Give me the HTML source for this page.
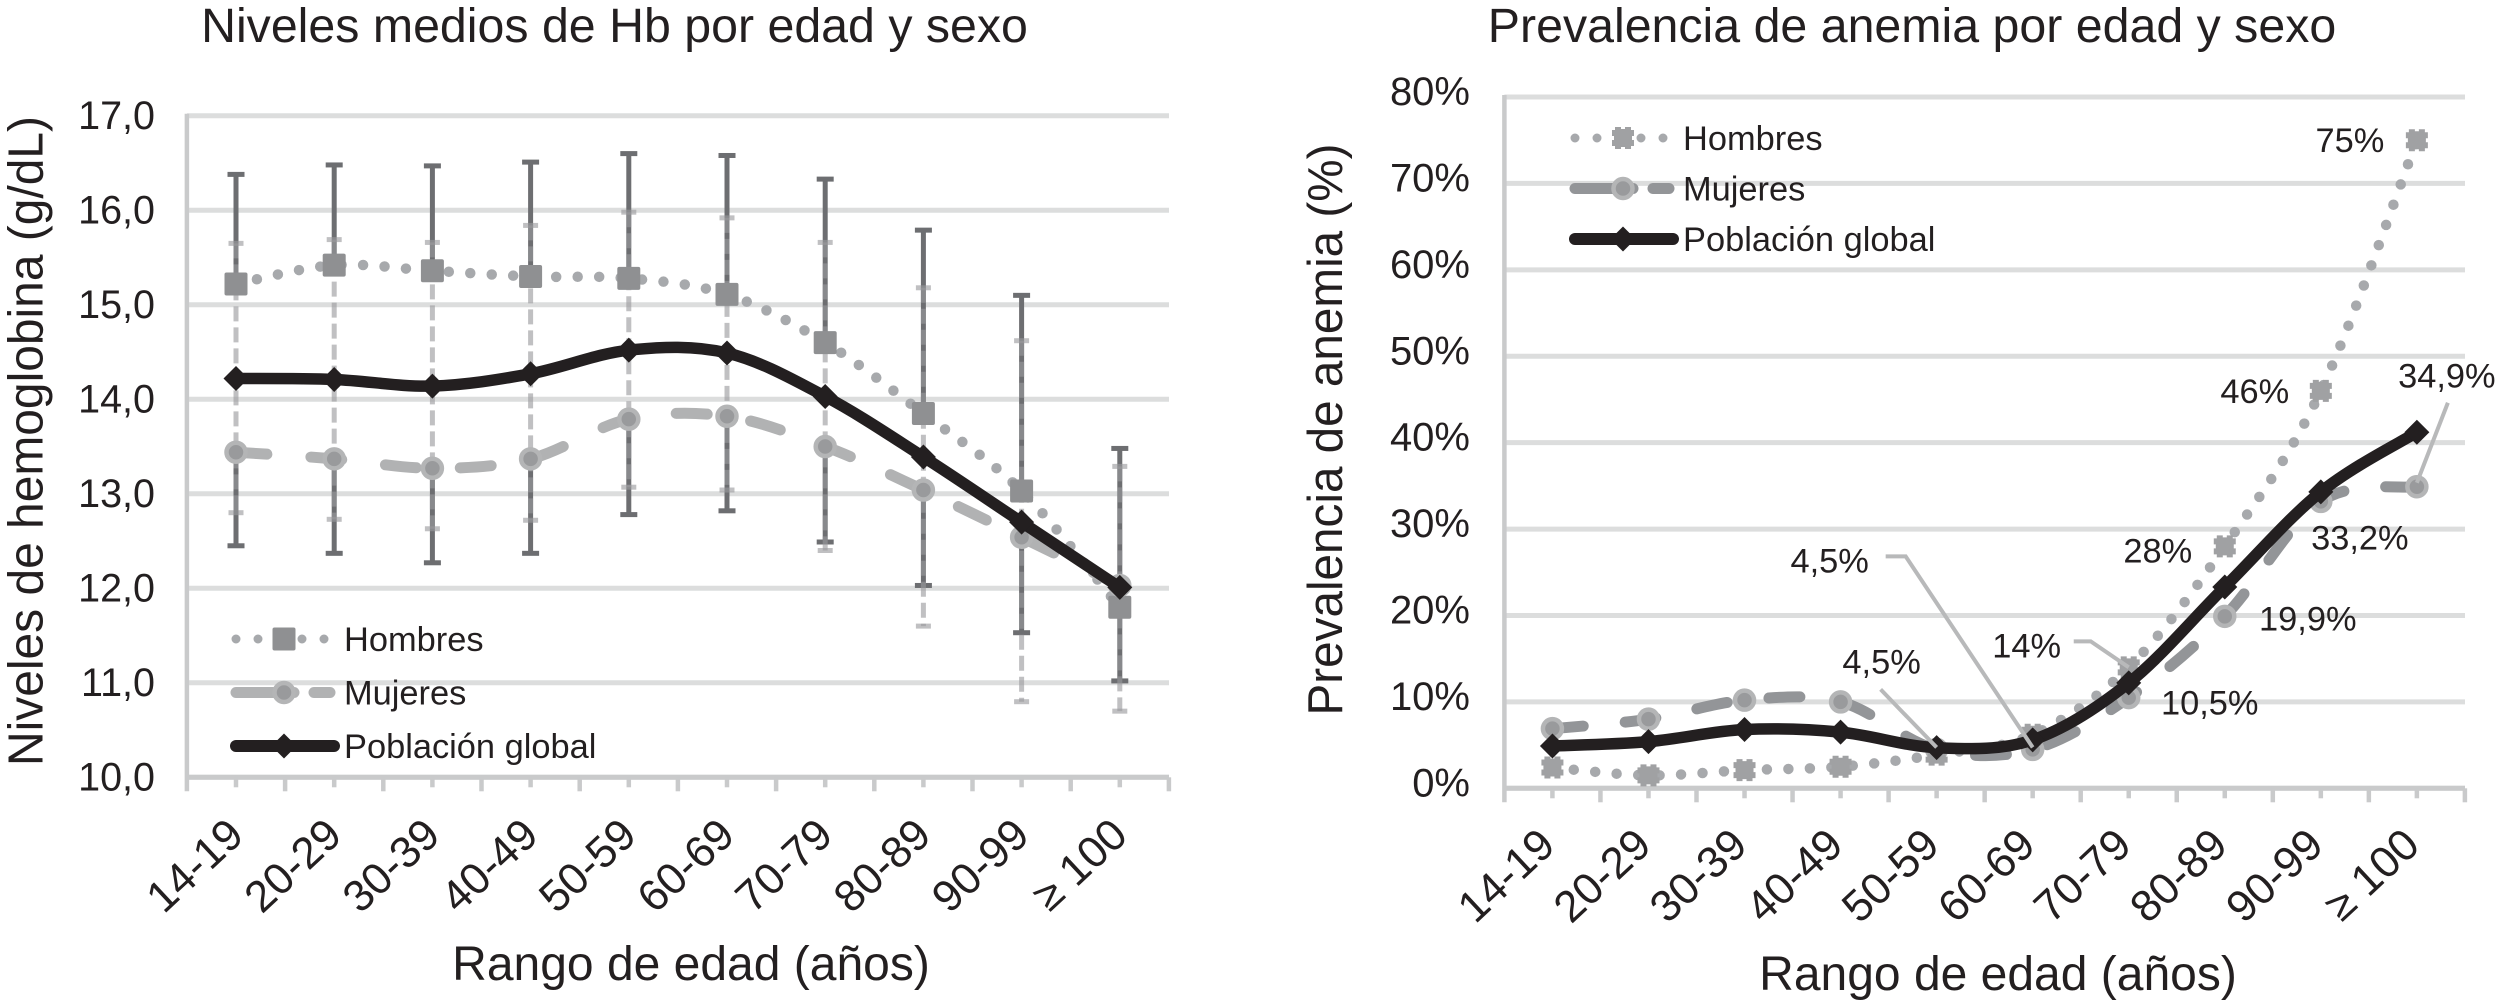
<!DOCTYPE html>
<html lang="es">
<head>
<meta charset="utf-8">
<title>Hemoglobina y anemia por edad y sexo</title>
<style>
html,body{margin:0;padding:0;background:#fff;width:2496px;height:1000px;overflow:hidden}
svg{display:block}
text{font-family:"Liberation Sans",Arial,sans-serif;fill:#231f20}
</style>
</head>
<body>
<svg id="fig" xmlns="http://www.w3.org/2000/svg" width="2496" height="1000" viewBox="0 0 2496 1000"></svg>
<script>
// ---- shared categories
const categories = ["14-19","20-29","30-39","40-49","50-59","60-69","70-79","80-89","90-99","≥ 100"];
// ---- left chart data (g/dL)
const hbTicks = [10,11,12,13,14,15,16,17];
const hbHombres = [15.22,15.42,15.36,15.30,15.28,15.11,14.60,13.85,13.03,11.80];
const hbMujeres = [13.44,13.37,13.27,13.37,13.79,13.82,13.50,13.04,12.54,12.03];
const hbGlobal = [14.22,14.21,14.14,14.27,14.52,14.49,14.03,13.39,12.70,12.01];
const hbDarkHigh = [16.38,16.48,16.47,16.51,16.60,16.58,16.33,15.79,15.10,13.48];
const hbDarkLow = [12.45,12.37,12.27,12.37,12.78,12.82,12.49,12.03,11.53,11.02];
const hbLightHigh = [15.65,15.69,15.66,15.84,15.98,15.92,15.66,15.18,14.62,13.29];
const hbLightLow = [12.80,12.73,12.63,12.72,13.07,13.04,12.40,11.60,10.80,10.70];
// ---- right chart data (%)
const prevTicks = [0,10,20,30,40,50,60,70,80];
const prevHombres = [2.4,1.5,2.1,2.5,3.9,6.2,14,28,46,75];
const prevMujeres = [6.9,8.0,10.2,10.0,4.5,4.5,10.5,19.9,33.2,34.9];
const prevGlobal = [4.9,5.4,6.8,6.5,4.7,5.6,12.2,23.3,34.3,41.2];

const NS = "http://www.w3.org/2000/svg";
const fig = document.getElementById("fig");
const C = {black:"#231f20",grid:"#dcdddd",axis:"#c9cacb",dark:"#6d6e71",ring:"#b4b5b6",fillM:"#999a9c",leader:"#b8b9ba"};

function make(tag, attrs, parent){
  const el = document.createElementNS(NS, tag);
  for (const k in attrs) el.setAttribute(k, attrs[k]);
  (parent || fig).appendChild(el);
  return el;
}
function smoothPath(pts){
  let d = "M" + pts[0][0] + " " + pts[0][1];
  for (let i = 0; i < pts.length - 1; i++){
    const p0 = pts[Math.max(i-1,0)], p1 = pts[i], p2 = pts[i+1], p3 = pts[Math.min(i+2,pts.length-1)];
    const c1x = p1[0] + (p2[0]-p0[0])/6, c1y = p1[1] + (p2[1]-p0[1])/6;
    const c2x = p2[0] - (p3[0]-p1[0])/6, c2y = p2[1] - (p3[1]-p1[1])/6;
    d += " C" + c1x + " " + c1y + " " + c2x + " " + c2y + " " + p2[0] + " " + p2[1];
  }
  return d;
}
function drawSquare(g, x, y){
  const m = make("rect", {x:x-11.5, y:y-11.5, width:23, height:23, rx:2, fill:"#8f9092"}, g);
  
  
}
function drawStar(g, x, y){
  const side = [[-8,-11],[-2,-11],[-2,-9],[2,-9],[2,-11],[8,-11],[8,-8],[11,-8]];
  const out = [];
  for (let r = 0; r < 4; r++){
    side.forEach(function(p){
      let a = p[0], b = p[1];
      for (let k = 0; k < r; k++){ const t = a; a = -b; b = t; }
      out.push((x+a) + "," + (y+b));
    });
  }
  const m = make("polygon", {points:out.join(" "), fill:"#a0a1a3"}, g);
  
  
}
function drawCircle(g, x, y, inner){
  const m = make("circle", {cx:x, cy:y, r:9.5, fill:inner, stroke:C.ring, "stroke-width":4.5}, g);
  
  
}
function drawDiamond(g, x, y){
  const r = 12.5;
  const m = make("polygon", {points:x+","+(y-r)+" "+(x+r)+","+y+" "+x+","+(y+r)+" "+(x-r)+","+y, fill:C.black}, g);
  
  
}

function buildAxes(cfg){
  const g = make("g", {});
  
  
  cfg.ticks.forEach(function(t){
    const line = make("line", {x1:cfg.left, x2:cfg.right, y1:cfg.y(t), y2:cfg.y(t), stroke:C.grid, "stroke-width":5}, g);
    
    
    const lab = make("text", {x:cfg.tickX, y:cfg.y(t)+cfg.tickDy, "text-anchor":"end", "font-size":cfg.tickSize}, g);
    
    
    lab.textContent = cfg.fmt(t);
  });
  const base = make("line", {x1:cfg.left, x2:cfg.right, y1:cfg.bottom, y2:cfg.bottom, stroke:C.axis, "stroke-width":5}, g);
  
  
  const yAxis = make("line", {x1:cfg.left, x2:cfg.left, y1:cfg.top-2, y2:cfg.bottom+14, stroke:C.axis, "stroke-width":4.5}, g);
  
  
  const step = cfg.band / 2;
  for (let i = 1; i <= categories.length * 2; i++){
    const px = cfg.left + i * step;
    const tick = make("line", {x1:px, x2:px, y1:cfg.bottom, y2:cfg.bottom + (i % 2 ? 10 : 14), stroke:C.axis, "stroke-width":4.5}, g);
    
    
  }
  categories.forEach(function(c, i){
    const px = cfg.x(i) + cfg.catDx, py = cfg.catY;
    const lab = make("text", {x:px, y:py, "text-anchor":"end", "font-size":44, transform:"rotate(-43 "+px+" "+py+")"}, g);
    
    
    lab.textContent = c;
  });
  const title = make("text", {x:cfg.titleX, y:42, "text-anchor":"middle", "font-size":48.3}, g);
  
  
  title.textContent = cfg.title;
  const xt = make("text", {x:cfg.xTitleX, y:cfg.xTitleY, "text-anchor":"middle", "font-size":48}, g);
  
  
  xt.textContent = "Rango de edad (años)";
  const yt = make("text", {x:0, y:0, "text-anchor":"middle", "font-size":49, textLength:cfg.yTitleLen, lengthAdjust:"spacingAndGlyphs",
    transform:"translate("+cfg.yTitleX+" "+cfg.yTitleY+") rotate(-90)"}, g);
  
  
  yt.textContent = cfg.yTitle;
}

function drawSeries(cfg, values, kind){
  const g = make("g", {});
  
  
  const pts = values.map(function(v, i){ return [cfg.x(i), cfg.y(v)]; });
  const attrs = {d:smoothPath(pts), fill:"none"};
  if (kind === "hombres"){
    attrs.stroke = "#a7a9ac"; attrs["stroke-width"] = 10.5; attrs["stroke-linecap"] = "round"; attrs["stroke-dasharray"] = "0 21.5";
  } else if (kind === "mujeres"){
    attrs.stroke = cfg.womenLine; attrs["stroke-width"] = 11; attrs["stroke-linecap"] = "round"; attrs["stroke-dasharray"] = cfg.womenDash;
  } else {
    attrs.stroke = C.black; attrs["stroke-width"] = 11.5; attrs["stroke-linecap"] = "butt";
  }
  const path = make("path", attrs, g);
  
  
  pts.forEach(function(p){
    if (kind === "hombres") cfg.menMarker(g, p[0], p[1]);
    else if (kind === "mujeres") drawCircle(g, p[0], p[1], C.fillM);
    else drawDiamond(g, p[0], p[1]);
  });
}

function drawErrorBars(cfg){
  const g = make("g", {});
  
  
  categories.forEach(function(c, i){
    const px = cfg.x(i);
    const up = make("line", {x1:px, x2:px, y1:cfg.y(hbDarkHigh[i]), y2:cfg.y(hbHombres[i]), stroke:C.dark, "stroke-width":5}, g);
    
    
    const down = make("line", {x1:px, x2:px, y1:cfg.y(hbMujeres[i]), y2:cfg.y(hbDarkLow[i]), stroke:C.dark, "stroke-width":5}, g);
    
    
    [hbDarkHigh[i], hbDarkLow[i]].forEach(function(v){
      const cap = make("rect", {x:px-8.5, y:cfg.y(v)-2.5, width:17, height:5, fill:C.dark}, g);
      
      
    });
    const l1 = make("line", {x1:px, x2:px, y1:cfg.y(hbLightHigh[i]), y2:cfg.y(hbLightLow[i]), stroke:"#999a9c", "stroke-opacity":0.62, "stroke-width":5, "stroke-dasharray":"15 6"}, g);
    
    
    [hbLightHigh[i], hbLightLow[i]].forEach(function(v){
      const cap = make("rect", {x:px-7.5, y:cfg.y(v)-2.5, width:15, height:5, fill:"#999a9c", "fill-opacity":0.62}, g);
      
      
    });
  });
}

function drawLegend(cfg){
  const g = make("g", {});
  
  
  const x0 = cfg.legendX, x1 = x0 + 104, mid = x0 + 52, tx = x0 + 112;
  ["Hombres","Mujeres","Población global"].forEach(function(name, i){
    const y = cfg.legendYs(i);
    const e = make("g", {}, g);
    
    
    if (i === 0){
      make("line", {x1:x0+4, x2:x1, y1:y, y2:y, stroke:"#a7a9ac", "stroke-width":9, "stroke-linecap":"round", "stroke-dasharray":"0 22"}, e);
      cfg.menMarker(e, mid, y);
    } else if (i === 1){
      make("line", {x1:x0+4, x2:mid+10, y1:y, y2:y, stroke:cfg.womenLine, "stroke-width":11, "stroke-linecap":"round"}, e);
      make("line", {x1:mid+30, x2:x1-6, y1:y, y2:y, stroke:cfg.womenLine, "stroke-width":11, "stroke-linecap":"round"}, e);
      drawCircle(e, mid, y, C.fillM);
    } else {
      make("line", {x1:x0+4, x2:x1-2, y1:y, y2:y, stroke:C.black, "stroke-width":12, "stroke-linecap":"round"}, e);
      drawDiamond(e, mid, y);
    }
    const t = make("text", {x:tx, y:y+12, "font-size":34.4}, e);
    
    
    t.textContent = name;
  });
}

function dataLabel(cfg, values, i, dx, dy, leader){
  const px = cfg.x(i), py = cfg.y(values[i]);
  if (leader){
    const pts = leader.map(function(o){ return (px+o[0]) + "," + (py+o[1]); }).join(" ");
    const l = make("polyline", {points:pts, fill:"none", stroke:C.leader, "stroke-width":4});
    
    
  }
  const t = make("text", {x:px+dx, y:py+dy, "text-anchor":"middle", "font-size":34.4});
  
  
  t.textContent = String(values[i]).replace(".", ",") + "%";
}

// ---- LEFT CHART
const leftCfg = {
  id:"hb", left:186.9, right:1169, band:98.2, top:115.8, bottom:777.3,
  x:function(i){ return 186.9 + 98.2 * (i + 0.5); },
  y:function(v){ return 777.3 - (v - 10) * 94.5; },
  ticks:hbTicks, tickX:155, tickDy:13, tickSize:39.5, fmt:function(t){ return t.toFixed(1).replace(".", ","); },
  catDx:10, catY:838, title:"Niveles medios de Hb por edad y sexo", titleX:614.5,
  xTitleX:691, xTitleY:980, yTitle:"Niveles de hemoglobina (g/dL)", yTitleLen:650, yTitleX:42.5, yTitleY:441,
  womenLine:"#b1b2b3", womenDash:"31 44", menMarker:drawSquare, legendX:232,
  legendYs:function(i){ return 639 + i * 53.5; }
};
buildAxes(leftCfg);
drawLegend(leftCfg);
drawErrorBars(leftCfg);
drawSeries(leftCfg, hbHombres, "hombres");
drawSeries(leftCfg, hbMujeres, "mujeres");
drawSeries(leftCfg, hbGlobal, "global");

// ---- RIGHT CHART
const rightCfg = {
  id:"prev", left:1504.4, right:2465, band:96.05, top:97, bottom:788.3,
  x:function(i){ return 1504.4 + 96.05 * (i + 0.5); },
  y:function(v){ return 788.3 - v * 8.641; },
  ticks:prevTicks, tickX:1470, tickDy:8, tickSize:40, fmt:function(t){ return t + "%"; },
  catDx:5, catY:848, title:"Prevalencia de anemia por edad y sexo", titleX:1912,
  xTitleX:1998, xTitleY:990, yTitle:"Prevalencia de anemia (%)", yTitleLen:572, yTitleX:1342, yTitleY:429.5,
  womenLine:"#939598", womenDash:"31 42", menMarker:drawStar, legendX:1571,
  legendYs:function(i){ return 138 + i * 50.5; }
};
buildAxes(rightCfg);
drawLegend(rightCfg);
drawSeries(rightCfg, prevMujeres, "mujeres");
drawSeries(rightCfg, prevHombres, "hombres");
drawSeries(rightCfg, prevGlobal, "global");
dataLabel(rightCfg, prevHombres, 9, -67, 12);
dataLabel(rightCfg, prevHombres, 8, -66, 12);
dataLabel(rightCfg, prevHombres, 7, -67, 16);
dataLabel(rightCfg, prevHombres, 6, -102, -10, [[-55,-26],[-38,-26],[0,0]]);
dataLabel(rightCfg, prevMujeres, 9, 30, -99, [[31,-84],[0,-4]]);
dataLabel(rightCfg, prevMujeres, 8, 39, 48);
dataLabel(rightCfg, prevMujeres, 7, 83, 14);
dataLabel(rightCfg, prevMujeres, 6, 81, 17);
dataLabel(rightCfg, prevMujeres, 5, -203, -177, [[-147,-193],[-127,-193],[0,-2]]);
dataLabel(rightCfg, prevMujeres, 4, -55, -76, [[-56,-60],[0,-2]]);
</script>
</body>
</html>
